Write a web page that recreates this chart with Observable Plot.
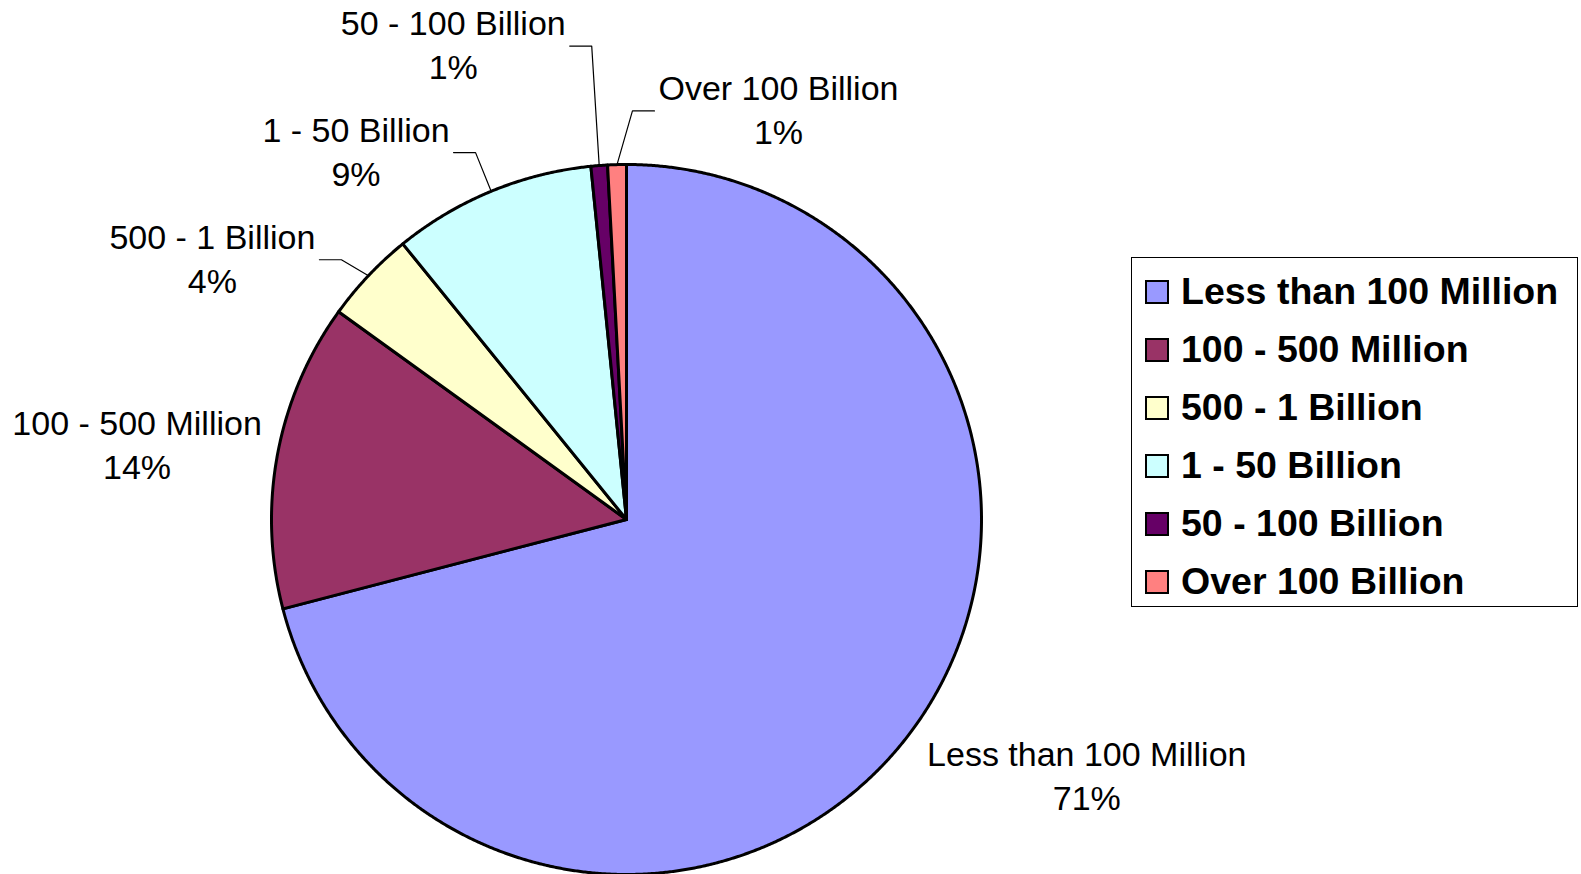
<!DOCTYPE html>
<html>
<head>
<meta charset="utf-8">
<script src="https://cdn.jsdelivr.net/npm/d3@7"></script>
<script src="https://cdn.jsdelivr.net/npm/@observablehq/plot@0.6"></script>
<style>
  html, body { margin: 0; padding: 0; background: #fff; }
  #wrap { position: relative; width: 1581px; height: 874px; overflow: hidden; font-family: "Liberation Sans", Arial, sans-serif; }
  #legend { position: absolute; left: 1131px; top: 257px; width: 447px; height: 350px; border: 1px solid #000; box-sizing: border-box; background: #fff; }
  .row { position: absolute; left: 0; height: 58px; display: flex; align-items: center; font-weight: bold; font-size: 37.5px; white-space: nowrap; color: #000; }
  .sw { width: 20px; height: 20px; border: 2px solid #000; margin-left: 13px; margin-right: 12px; flex: none; }
</style>
</head>
<body>
<div id="wrap"><div id="chart"></div><div id="legend"></div></div>
<script>
// ---- data ----
const categories = ["Less than 100 Million", "100 - 500 Million", "500 - 1 Billion", "1 - 50 Billion", "50 - 100 Billion", "Over 100 Billion"];
const shares = [70.95, 14.0, 4.2, 9.25, 0.75, 0.85];
const colors = ["#9999FF", "#993366", "#FFFFCC", "#CCFFFF", "#660066", "#FF8080"];

// ---- label placement (polar, relative to pie centre; like Excel's dragged labels) ----
const labelAngle = [119.25, 278.5, 302.1, 323.6, 339.9, 20.4];
const labelDist = [1.486, 1.394, 1.377, 1.284, 1.42, 1.228];
const labelLeader = [false, false, true, true, true, true];

const R = 355; // pixel radius
const CX = 626, CY = 519;
const fontSize = 34;
const font = `${fontSize}px "Liberation Sans", Arial, sans-serif`;
const ctx = document.createElement("canvas").getContext("2d");
ctx.font = font;

const total = d3.sum(shares);
const rad = (deg) => deg * Math.PI / 180;
const polar = (deg, r) => ({x: r * Math.sin(rad(deg)), y: r * Math.cos(rad(deg))});

// slices
const slicePts = [];
const mids = [];
let acc = 0;
categories.forEach((cat, i) => {
  const a0 = acc / total * 360;
  acc += shares[i];
  const a1 = acc / total * 360;
  mids.push((a0 + a1) / 2);
  slicePts.push({cat, x: 0, y: 0});
  const n = Math.max(2, Math.ceil((a1 - a0) / 0.25));
  for (let k = 0; k <= n; k++) {
    const p = polar(a0 + (a1 - a0) * k / n, 1);
    slicePts.push({cat, ...p});
  }
});

// labels
const labels = categories.map((cat, i) => {
  const p = polar(labelAngle[i], labelDist[i]);
  return {cat, x: p.x, y: p.y, text: `${cat}\n${Math.round(shares[i] / total * 100)}%`};
});

// leader lines
const leaders = [];
categories.forEach((cat, i) => {
  if (!labelLeader[i]) return;
  const lab = labels[i];
  const arc = polar(mids[i], 1);
  const w = Math.max(ctx.measureText(cat).width, ctx.measureText(lab.text.split("\n")[1]).width);
  const side = lab.x < arc.x ? 1 : -1; // label left of arc point -> start at right edge
  const sx = lab.x + side * (w / 2 + 4) / R;
  const ex = sx + side * 22 / R;
  leaders.push({cat, x: sx, y: lab.y}, {cat, x: ex, y: lab.y}, {cat, x: arc.x, y: arc.y});
});

const chart = Plot.plot({
  width: 1581,
  height: 874,
  axis: null,
  x: {domain: [-1, 1], range: [CX - R, CX + R]},
  y: {domain: [-1, 1], range: [CY + R, CY - R]},
  color: {domain: categories, range: colors},
  style: {background: "#fff", overflow: "visible"},
  marks: [
    Plot.line(slicePts, {x: "x", y: "y", z: "cat", fill: "cat", stroke: "#000", strokeWidth: 3, strokeLinejoin: "round", curve: "linear-closed"}),
    Plot.line(leaders, {x: "x", y: "y", z: "cat", stroke: "#000", strokeWidth: 1.2}),
    Plot.text(labels, {x: "x", y: "y", text: "text", dy: -3, fontSize, fontFamily: '"Liberation Sans", Arial, sans-serif', lineHeight: 1.29, lineAnchor: "middle", textAnchor: "middle", fill: "#000"})
  ]
});
document.getElementById("chart").appendChild(chart);

// legend
const legend = document.getElementById("legend");
categories.forEach((cat, i) => {
  const row = document.createElement("div");
  row.className = "row";
  row.style.top = (291.5 + 58.05 * i - 29 - 258) + "px";
  const sw = document.createElement("div");
  sw.className = "sw";
  sw.style.background = colors[i];
  const t = document.createElement("span");
  t.textContent = cat;
  row.appendChild(sw);
  row.appendChild(t);
  legend.appendChild(row);
});
</script>
</body>
</html>
